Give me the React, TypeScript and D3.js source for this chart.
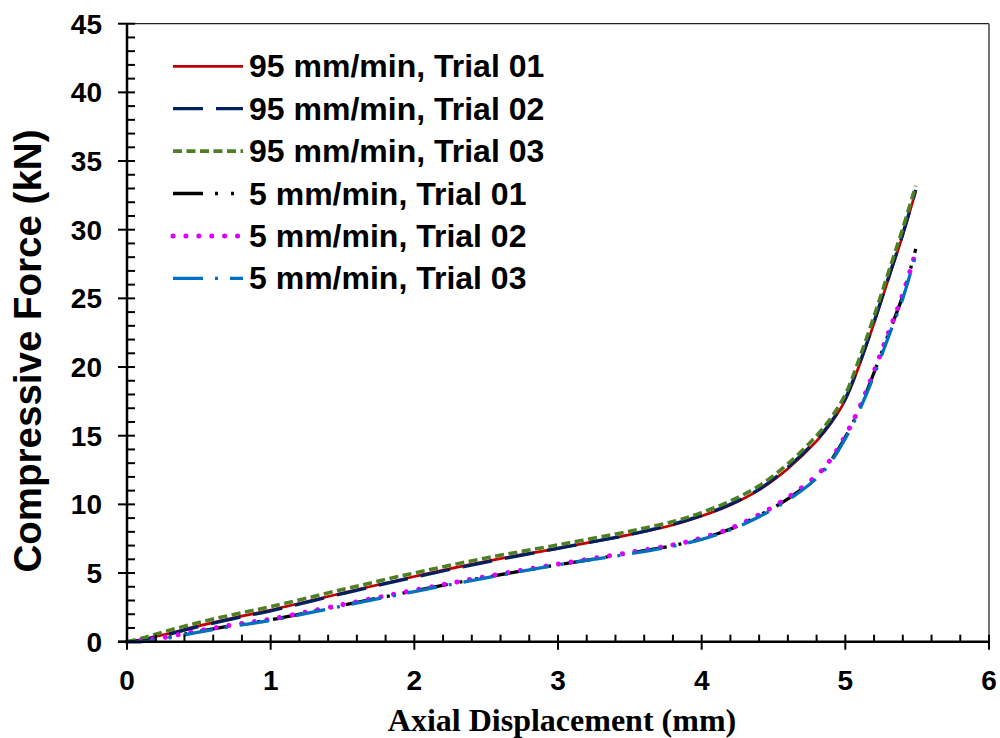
import React from "react";
import * as d3 from "d3";

const xTicks = [0, 1, 2, 3, 4, 5, 6];
const yTicks = [0, 5, 10, 15, 20, 25, 30, 35, 40, 45];

const x95 = [0, 0.1, 0.25, 0.5, 0.75, 1.0, 1.5, 2.0, 2.5, 3.0, 3.5, 3.8, 4.0, 4.2, 4.4, 4.6, 4.8, 4.9, 5.0, 5.1, 5.2, 5.3, 5.4, 5.49];
const y95t1 = [0, 0.15, 0.5, 1.15, 1.75, 2.3, 3.55, 4.75, 5.85, 6.8, 7.8, 8.5, 9.15, 9.95, 11.05, 12.6, 14.6, 15.9, 17.6, 20.2, 23.2, 26.4, 29.6, 32.8];
const y95t2 = [0, 0.12, 0.45, 1.1, 1.7, 2.25, 3.5, 4.7, 5.8, 6.8, 7.8, 8.55, 9.2, 10.0, 11.1, 12.7, 14.7, 16.0, 17.7, 20.3, 23.3, 26.5, 29.7, 32.9];
const y95t3 = [0, 0.25, 0.7, 1.4, 2.0, 2.55, 3.8, 5.0, 6.1, 7.05, 8.05, 8.75, 9.4, 10.25, 11.35, 12.95, 15.0, 16.3, 18.0, 20.7, 23.7, 26.9, 30.1, 33.2];

const x5 = [0, 0.1, 0.2, 0.5, 0.75, 1.0, 1.5, 2.0, 2.5, 3.0, 3.5, 3.8, 4.0, 4.2, 4.4, 4.6, 4.8, 4.9, 5.0, 5.1, 5.2, 5.3, 5.4, 5.49];
const y5t1 = [0, 0.02, 0.15, 0.75, 1.2, 1.6, 2.65, 3.7, 4.7, 5.6, 6.45, 7.0, 7.5, 8.2, 9.2, 10.4, 12.0, 13.2, 14.9, 17.0, 19.6, 22.4, 25.2, 28.6];
const y5t2 = [0, 0.05, 0.2, 0.8, 1.25, 1.65, 2.7, 3.75, 4.75, 5.65, 6.5, 7.05, 7.55, 8.25, 9.25, 10.5, 12.1, 13.3, 15.0, 17.1, 19.7, 22.5, 25.3, 28.4];
const y5t3 = [0, 0.0, 0.1, 0.7, 1.15, 1.55, 2.6, 3.65, 4.65, 5.6, 6.4, 6.95, 7.45, 8.15, 9.1, 10.3, 11.9, 13.1, 14.8, 16.9, 19.4, 22.2, 25.0, 28.2];

const seriesNames = [
  "95 mm/min, Trial 01",
  "95 mm/min, Trial 02",
  "95 mm/min, Trial 03",
  "5 mm/min, Trial 01",
  "5 mm/min, Trial 02",
  "5 mm/min, Trial 03",
];

const styles = [
  { color: "#C00000", width: 2.7, dash: "", cap: "butt" },
  { color: "#002060", width: 3.3, dash: "30 13", cap: "butt" },
  { color: "#4F7F25", width: 3.6, dash: "9 4.5", cap: "butt" },
  { color: "#000000", width: 3.3, dash: "30 12 3 13 3 13", cap: "butt" },
  { color: "#DD00FF", width: 5, dash: "0.1 12.8", cap: "round" },
  { color: "#0070C0", width: 3.3, dash: "30 12 3 12", cap: "butt" },
];

const seriesData = [
  { xs: x95, ys: y95t1 },
  { xs: x95, ys: y95t2 },
  { xs: x95, ys: y95t3 },
  { xs: x5, ys: y5t1 },
  { xs: x5, ys: y5t2 },
  { xs: x5, ys: y5t3 },
];

export default function App() {
  const W = 1000, H = 738;
  const L = 127, R = 989, T = 23.7, B = 641.7;
  const x = d3.scaleLinear().domain([0, 6]).range([L, R]);
  const y = d3.scaleLinear().domain([0, 45]).range([B, T]);
  const line = d3
    .line<[number, number]>()
    .x((d) => x(d[0]))
    .y((d) => y(d[1]))
    .curve(d3.curveCatmullRom.alpha(0.5));

  const xMinor = d3.range(0, 30).map((i) => i * 0.2).filter((v) => Math.abs(v - Math.round(v)) > 1e-6);
  const yMinor = d3.range(0, 45).filter((v) => v % 5 !== 0);

  const legendY0 = 66.3, legendDy = 42.4;
  const sans = "Liberation Sans, Arial, sans-serif";

  return (
    <svg width={W} height={H} style={{ position: "absolute", left: 0, top: 0, background: "#fff" }}>
      <rect x={0} y={0} width={W} height={H} fill="#fff" />
      <line x1={L} x2={R} y1={T} y2={T} stroke="#222" strokeWidth={1.2} />
      <line x1={R} x2={R} y1={T} y2={B} stroke="#444" strokeWidth={1.5} />
      {seriesData.map((s, i) => (
        <path
          key={i}
          d={line(s.xs.map((v, j) => [v, s.ys[j]] as [number, number])) || ""}
          fill="none"
          stroke={styles[i].color}
          strokeWidth={styles[i].width}
          strokeDasharray={styles[i].dash || undefined}
          strokeLinecap={styles[i].cap as any}
        />
      ))}
      <line x1={L} x2={L} y1={T} y2={B} stroke="#000" strokeWidth={2.5} />
      <line x1={L - 9} x2={R} y1={B} y2={B} stroke="#000" strokeWidth={2.5} />
      {yTicks.map((t) => (
        <line key={"yt" + t} x1={L - 9} x2={L + 8} y1={y(t)} y2={y(t)} stroke="#000" strokeWidth={2} />
      ))}
      {yMinor.map((t) => (
        <line key={"ym" + t} x1={L} x2={L + 8} y1={y(t)} y2={y(t)} stroke="#000" strokeWidth={2} />
      ))}
      {xTicks.map((t) => (
        <line key={"xt" + t} x1={x(t)} x2={x(t)} y1={B - 7} y2={B + 8} stroke="#000" strokeWidth={2} />
      ))}
      {xMinor.map((t) => (
        <line key={"xm" + t} x1={x(t)} x2={x(t)} y1={B - 7} y2={B} stroke="#000" strokeWidth={2} />
      ))}
      {yTicks.map((t) => (
        <text key={"yl" + t} x={102} y={y(t) + 10} textAnchor="end" fontFamily={sans} fontWeight="bold" fontSize={28}>
          {t}
        </text>
      ))}
      {xTicks.map((t) => (
        <text key={"xl" + t} x={x(t)} y={690} textAnchor="middle" fontFamily={sans} fontWeight="bold" fontSize={28}>
          {t}
        </text>
      ))}
      <text x={562} y={731} textAnchor="middle" fontFamily="Liberation Serif, Times New Roman, serif" fontWeight="bold" fontSize={32}>
        Axial Displacement (mm)
      </text>
      <text
        transform={`translate(41,351) rotate(-90)`}
        textAnchor="middle"
        fontFamily={sans}
        fontWeight="bold"
        fontSize={38.5}
      >
        Compressive Force (kN)
      </text>
      {seriesNames.map((n, i) => {
        const cy = legendY0 + i * legendDy;
        return (
          <g key={"lg" + i}>
            <line
              x1={173}
              x2={243}
              y1={cy}
              y2={cy}
              stroke={styles[i].color}
              strokeWidth={styles[i].width}
              strokeDasharray={styles[i].dash || undefined}
              strokeLinecap={styles[i].cap as any}
            />
            <text x={249} y={cy + 11} fontFamily={sans} fontWeight="bold" fontSize={32}>
              {n}
            </text>
          </g>
        );
      })}
    </svg>
  );
}
